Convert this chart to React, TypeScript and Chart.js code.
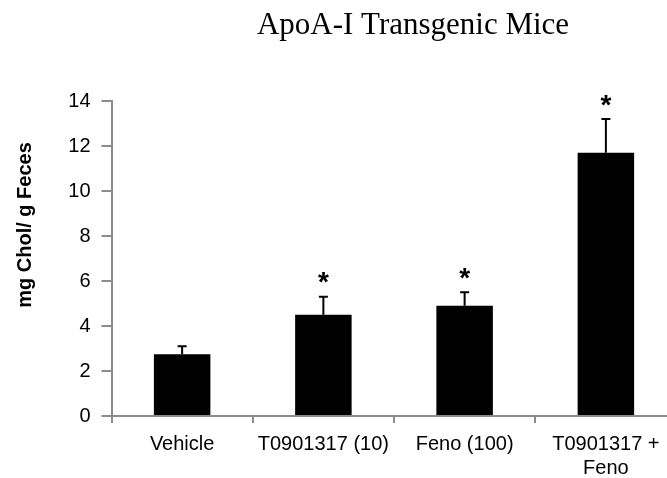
import React, { useEffect, useRef } from "react";
import { Chart, registerables } from "chart.js";

Chart.register(...registerables);

// Fecal cholesterol per treatment group
const categories: (string | string[])[] = [
  "Vehicle",
  "T0901317 (10)",
  "Feno (100)",
  ["T0901317 +", "Feno"],
];
const means = [2.75, 4.5, 4.9, 11.7];
const errors = [0.35, 0.8, 0.6, 1.5];
const significant = [false, true, true, true];
const yTicks = [0, 2, 4, 6, 8, 10, 12, 14];

const chartTitle = "ApoA-I Transgenic Mice";
const yTitle = "mg Chol/ g Feces";

const SANS = "'Liberation Sans', Arial, Helvetica, sans-serif";
const SERIF = "'Liberation Serif', 'Times New Roman', Times, serif";
const AXIS_GRAY = "#8c8c8c";

const annotations = {
  id: "annotations",
  afterDatasetsDraw(chart: any) {
    const ctx = chart.ctx as CanvasRenderingContext2D;
    const meta = chart.getDatasetMeta(0);
    const y = chart.scales.y;
    ctx.save();
    meta.data.forEach((bar: any, i: number) => {
      const top = y.getPixelForValue(means[i] + errors[i]);
      const x = bar.x;
      // upper error whisker
      ctx.strokeStyle = "#000";
      ctx.lineWidth = 2;
      ctx.beginPath();
      ctx.moveTo(x, bar.y);
      ctx.lineTo(x, top);
      ctx.moveTo(x - 4.5, top);
      ctx.lineTo(x + 4.5, top);
      ctx.stroke();
      // significance marker
      if (significant[i]) {
        ctx.font = `bold 28px ${SANS}`;
        ctx.fillStyle = "#000";
        ctx.textAlign = "center";
        ctx.textBaseline = "alphabetic";
        const m = ctx.measureText("*");
        const cy = top - 19;
        const base = cy + (m.actualBoundingBoxAscent - m.actualBoundingBoxDescent) / 2;
        ctx.fillText("*", x, base);
      }
    });
    ctx.restore();
  },
  afterDraw(chart: any) {
    const ctx = chart.ctx as CanvasRenderingContext2D;
    ctx.save();
    ctx.fillStyle = "#000";
    ctx.font = `31px ${SERIF}`;
    ctx.textAlign = "center";
    ctx.textBaseline = "alphabetic";
    ctx.fillText(chartTitle, 413, 34);

    ctx.translate(25, 225);
    ctx.rotate(-Math.PI / 2);
    ctx.font = `bold 20px ${SANS}`;
    ctx.textBaseline = "middle";
    ctx.fillText(yTitle, 0, 0);
    ctx.restore();
  },
};

export default function App() {
  const canvasRef = useRef<HTMLCanvasElement | null>(null);

  useEffect(() => {
    const canvas = canvasRef.current;
    if (!canvas) return;
    const chart = new Chart(canvas, {
      type: "bar",
      data: {
        labels: categories,
        datasets: [
          {
            data: means,
            backgroundColor: "#000",
            borderWidth: 0,
            barPercentage: 0.4,
            categoryPercentage: 1,
          },
        ],
      },
      options: {
        responsive: false,
        animation: false,
        layout: { padding: { top: 101, right: 13.5, left: 0, bottom: 0 } },
        plugins: {
          legend: { display: false },
          tooltip: { enabled: false },
          title: { display: false },
        },
        scales: {
          x: {
            offset: true,
            grid: {
              offset: true,
              drawOnChartArea: false,
              drawTicks: true,
              tickLength: 7,
              color: AXIS_GRAY,
              lineWidth: 2,
            },
            border: { color: AXIS_GRAY, width: 2 },
            ticks: {
              color: "#000",
              font: { family: SANS, size: 20, lineHeight: 1.2 },
              padding: 9,
              maxRotation: 0,
              autoSkip: false,
            },
            afterFit(scale: any) {
              scale.height = 62;
            },
          },
          y: {
            min: 0,
            max: 14,
            afterBuildTicks(scale: any) {
              scale.ticks = yTicks.map((v) => ({ value: v }));
            },
            grid: {
              drawOnChartArea: false,
              drawTicks: true,
              tickLength: 10,
              color: AXIS_GRAY,
              lineWidth: 2,
            },
            border: { color: AXIS_GRAY, width: 2 },
            ticks: {
              color: "#000",
              font: { family: SANS, size: 20 },
              padding: 11,
            },
            afterFit(scale: any) {
              scale.width = 111.5;
            },
          },
        },
      },
      plugins: [annotations],
    });
    return () => chart.destroy();
  }, []);

  return (
    <div
      style={{
        position: "absolute",
        left: 0,
        top: 0,
        width: 667,
        height: 478,
        overflow: "hidden",
        background: "#fff",
      }}
    >
      <canvas ref={canvasRef} width={690} height={478} style={{ display: "block" }} />
    </div>
  );
}
